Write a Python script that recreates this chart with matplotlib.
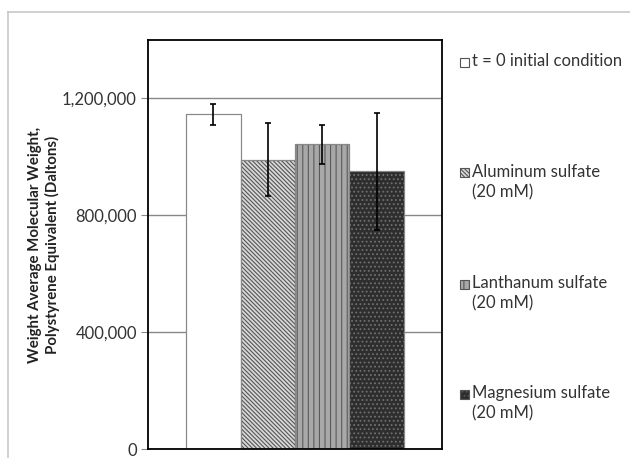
import numpy as np
import matplotlib
matplotlib.use('Agg')
import matplotlib.pyplot as plt
from matplotlib.patches import Rectangle
from matplotlib.ticker import FuncFormatter

plt.rcParams['font.family'] = ['Lato', 'DejaVu Sans']
plt.rcParams['hatch.linewidth'] = 0.8

# data
labels = ['t = 0 initial condition', 'Aluminum sulfate\n(20 mM)',
          'Lanthanum sulfate\n(20 mM)', 'Magnesium sulfate\n(20 mM)']
mw = [1145000, 990000, 1043000, 950000]
mw_err = [35000, 125000, 67000, 200000]

faces = ['white', '#d8d8d8', '#a8a8a8', '#2e2e2e']
hatches = ['', '\\\\\\\\\\\\\\\\', '|||', '....']
hatch_cols = ['#999999', '#555555', '#5a5a5a', '#707070']

fig = plt.figure(figsize=(6.3, 4.58), dpi=100)
ax = fig.add_axes([148 / 630, 1 - 449 / 458, 294 / 630, 409 / 458])

width = 0.185
x = (np.arange(len(mw)) - 1.5) * width
for i in range(len(mw)):
    ax.bar(x[i], mw[i], width, color=faces[i], hatch=hatches[i],
           edgecolor=hatch_cols[i], linewidth=0.8, zorder=2)
    ax.bar(x[i], mw[i], width, color='none', edgecolor='#888888',
           linewidth=0.8, zorder=2)
    ax.errorbar(x[i], mw[i], yerr=mw_err[i], fmt='none', ecolor='black',
                elinewidth=1.2, capsize=2, capthick=1.2, zorder=3)

ax.set_xlim(-0.5, 0.5)
ax.set_ylim(0, 1400000)
ax.set_yticks([0, 400000, 800000, 1200000])
ax.yaxis.set_major_formatter(FuncFormatter(lambda v, p: f'{int(v):,}'))
ax.yaxis.grid(True, color='#888888', linewidth=1.0, zorder=0)
ax.set_axisbelow(True)
ax.set_xticks([])
ax.tick_params(axis='y', direction='out', length=5, width=0.8,
               color='#888888', labelsize=12, labelcolor='#333333', pad=3)
for s in ax.spines.values():
    s.set_color('black')
    s.set_linewidth(1.3)

ax.set_ylabel('Weight Average Molecular Weight,\nPolystyrene Equivalent (Daltons)',
              fontsize=10.8, fontweight='bold', color='#222222',
              linespacing=1.2)
ax.yaxis.set_label_coords(-0.30, 0.5)

# legend drawn by hand so the spacing follows the reference
leg_y = [62, 173, 284, 394]
for i in range(len(labels)):
    yc = 1 - leg_y[i] / 458
    sq = Rectangle((460 / 630, yc - 4.5 / 458), 9 / 630, 9 / 458,
                   transform=fig.transFigure, facecolor=faces[i],
                   hatch=hatches[i], edgecolor='#555555', linewidth=0.8)
    fig.patches.append(sq)
    fig.text(472 / 630, yc + 9 / 458, labels[i], ha='left', va='top',
             fontsize=12, color='#333333', linespacing=1.3)

# light frame around the picture
fig.add_artist(plt.Line2D([8 / 630, 8 / 630], [0, 1 - 12 / 458],
                          transform=fig.transFigure, color='#c8c8c8', lw=1.2))
fig.add_artist(plt.Line2D([8 / 630, 1], [1 - 12 / 458, 1 - 12 / 458],
                          transform=fig.transFigure, color='#c8c8c8', lw=1.2))

fig.savefig('out.png', dpi=100)
